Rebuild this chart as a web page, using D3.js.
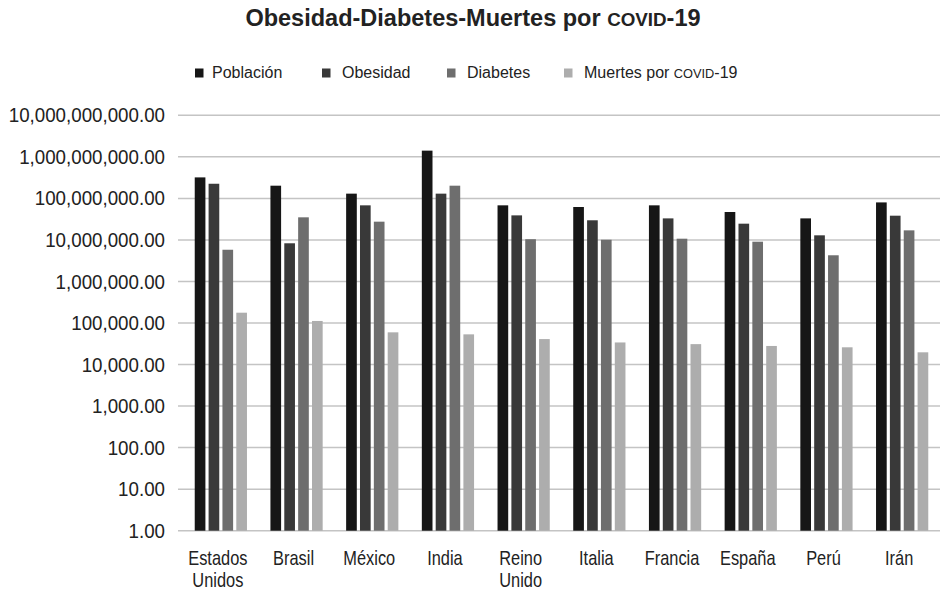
<!DOCTYPE html>
<html><head><meta charset="utf-8">
<script src="https://cdn.jsdelivr.net/npm/d3@7"></script>
<style>
body{margin:0;background:#fff;}
svg{display:block;}
</style></head>
<body>
<svg id="chart" width="942" height="594"></svg>
<script>
const countries = ["Estados Unidos","Brasil","México","India","Reino Unido","Italia","Francia","España","Perú","Irán"];
const seriesNames = ["Población","Obesidad","Diabetes","Muertes por COVID-19"];
const poblacion = [3.2e8, 2.02e8, 1.30e8, 1.41e9, 6.8e7, 6.2e7, 6.8e7, 4.7e7, 3.3e7, 8.0e7];
const obesidad  = [2.25e8, 8.3e6, 6.8e7, 1.30e8, 3.9e7, 2.97e7, 3.3e7, 2.46e7, 1.29e7, 3.83e7];
const diabetes  = [5.8e6, 3.5e7, 2.75e7, 2.02e8, 1.04e7, 1.01e7, 1.07e7, 9.06e6, 4.27e6, 1.7e7];
const muertes   = [1.77e5, 1.12e5, 5.96e4, 5.33e4, 4.1e4, 3.4e4, 3.1e4, 2.8e4, 2.6e4, 1.97e4];
const yTicks = [1,10,100,1e3,1e4,1e5,1e6,1e7,1e8,1e9,1e10];
const colors = ["#161616","#393939","#6e6e6e","#adadad"];

(function(){
const allSeries = [poblacion, obesidad, diabetes, muertes];
const svg = d3.select("#chart");
const mLeft = 181, mRight = 940, mTop = 115.3, mBottom = 530.7;
const FONT = "'Liberation Sans', Arial, sans-serif";

const y = d3.scaleLog().domain([1, 1e10]).range([mBottom, mTop]);
const x0 = d3.scaleBand().domain(countries).range([183, mRight]).paddingInner(0.31).paddingOuter(0.155);
const x1 = d3.scaleBand().domain(seriesNames).range([0, x0.bandwidth()]).paddingInner(0.23);

// title
const title = svg.append("text").attr("x", 473).attr("y", 26).attr("text-anchor","middle")
  .attr("font-family", FONT).attr("font-weight","bold")
  .attr("font-size", 23.5).attr("fill","#222");
title.append("tspan").text("Obesidad-Diabetes-Muertes por ");
title.append("tspan").attr("font-size", 23.5*0.8).text("COVID");
title.append("tspan").text("-19");

// gridlines
svg.append("g").selectAll("line").data(yTicks).join("line")
  .attr("x1", mLeft - 3).attr("x2", mRight).attr("y1", d => y(d)).attr("y2", d => y(d))
  .attr("stroke","#c4c4c4").attr("stroke-width",1.5);
const yAxis = d3.axisLeft(y).tickValues(yTicks).tickFormat(d3.format(",.2f")).tickSize(0).tickPadding(16);
const gy = svg.append("g").attr("transform", `translate(${mLeft},0)`).call(yAxis);
gy.select(".domain").remove();
const sx = 0.915;
gy.selectAll("text").attr("font-family", FONT).attr("font-size", 20.5).attr("fill","#222")
  .attr("x", -16 / sx).attr("transform", `scale(${sx},1)`);

// bars
const groups = svg.append("g").selectAll("g").data(countries).join("g")
  .attr("transform", d => `translate(${x0(d)},0)`);
groups.selectAll("rect").data((c, i) => seriesNames.map((s, k) => ({s, k, v: allSeries[k][i]})))
  .join("rect")
  .attr("x", d => x1(d.s)).attr("width", x1.bandwidth())
  .attr("y", d => y(d.v)).attr("height", d => mBottom - y(d.v))
  .attr("fill", d => colors[d.k]);

// x labels (condensed)
const xl = svg.append("g");
countries.forEach(c => {
  const parts = c.split(" ");
  const cx = x0(c) + x0.bandwidth()/2 - 3;
  const g = xl.append("g").attr("transform", `translate(${cx},565) scale(0.82,1)`);
  const t = g.append("text").attr("text-anchor","middle")
    .attr("font-family", FONT).attr("font-size", 20).attr("fill","#222");
  parts.forEach((p, i) => t.append("tspan").attr("x", 0).attr("dy", i === 0 ? 0 : 22).text(p));
});

// legend
const legendX = [195, 322, 447, 564];
const lg = svg.append("g");
seriesNames.forEach((s, i) => {
  lg.append("rect").attr("x", legendX[i]).attr("y", 68.5).attr("width", 8.5).attr("height", 9).attr("fill", colors[i]);
  const t = lg.append("text").attr("x", legendX[i] + (i === 0 ? 17 : 20)).attr("y", 77.7)
    .attr("font-family", FONT).attr("font-size", 16).attr("fill","#222");
  if (s.includes("COVID")) {
    t.append("tspan").text("Muertes por ");
    t.append("tspan").attr("font-size", 16*0.8).text("COVID");
    t.append("tspan").text("-19");
  } else t.text(s);
});
})();
</script>
</body></html>
